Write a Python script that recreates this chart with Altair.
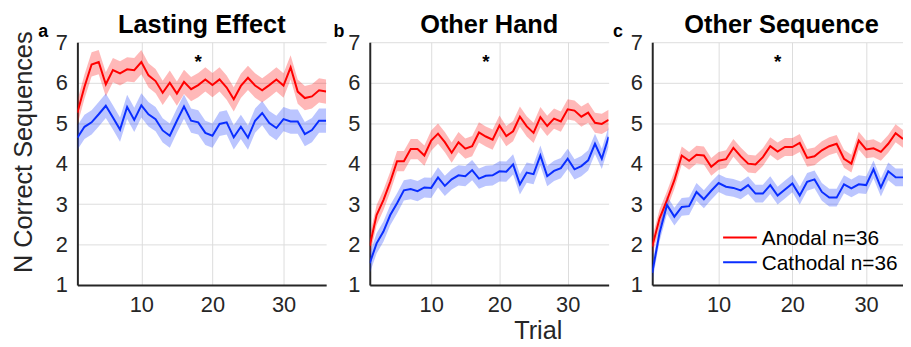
import altair as alt
import pandas as pd

# ---------------- data ----------------
trials = list(range(1, 37))
groups = ["Anodal n=36", "Cathodal n=36"]
colors = ["#ff0000", "#0a2eff"]

lasting_anodal = [5.26, 5.90, 6.45, 6.51, 5.96, 6.31, 6.23, 6.33, 6.31, 6.51,
                  6.18, 6.04, 5.75, 6.00, 5.73, 6.02, 5.84, 5.94, 6.08, 5.94,
                  6.08, 5.88, 5.59, 5.92, 6.12, 5.93, 5.81, 5.94, 6.08, 5.93,
                  6.38, 5.78, 5.62, 5.66, 5.81, 5.78]
lasting_cathodal = [4.64, 4.91, 5.02, 5.22, 5.43, 5.14, 4.84, 5.40, 5.08, 5.44,
                    5.22, 5.10, 4.82, 4.69, 5.06, 5.41, 5.06, 5.02, 4.76, 4.69,
                    4.98, 5.02, 4.65, 4.91, 4.64, 5.06, 5.25, 5.00, 4.88, 5.10,
                    5.04, 5.04, 4.73, 4.83, 5.06, 5.06]
hand_anodal = [1.97, 2.73, 3.10, 3.55, 4.06, 4.06, 4.36, 4.36, 4.20, 4.57,
               4.74, 4.53, 4.27, 4.53, 4.37, 4.43, 4.77, 4.67, 4.59, 4.94,
               4.68, 4.80, 5.16, 4.92, 4.76, 5.15, 4.93, 5.11, 5.04, 5.34,
               5.31, 5.16, 5.26, 5.01, 4.98, 5.08]
hand_cathodal = [1.54, 2.03, 2.32, 2.73, 3.02, 3.34, 3.37, 3.32, 3.41, 3.40,
                 3.66, 3.45, 3.61, 3.71, 3.69, 3.84, 3.63, 3.70, 3.71, 3.81,
                 3.80, 3.98, 3.49, 3.78, 3.74, 4.20, 3.69, 3.82, 3.89, 4.12,
                 3.86, 3.94, 4.08, 4.49, 4.12, 4.66]
seq_anodal = [1.95, 2.65, 3.10, 3.59, 4.20, 4.07, 4.22, 4.20, 3.92, 4.07,
              4.11, 4.39, 4.18, 4.00, 3.98, 4.16, 4.43, 4.30, 4.41, 4.41,
              4.51, 4.14, 4.18, 4.33, 4.43, 4.49, 4.12, 4.00, 4.57, 4.35,
              4.38, 4.29, 4.49, 4.75, 4.61, 4.55]
seq_cathodal = [1.30, 2.30, 2.98, 2.69, 2.93, 2.95, 3.30, 3.12, 3.33, 3.52,
                3.43, 3.40, 3.34, 3.47, 3.26, 3.26, 3.47, 3.21, 3.36, 3.51,
                3.21, 3.55, 3.61, 3.30, 3.16, 3.16, 3.49, 3.39, 3.49, 3.47,
                3.86, 3.41, 3.81, 3.66, 3.66, 3.66]

# standard error half-widths of the shaded bands (anodal, cathodal)
lasting_sem = [0.30, 0.30]
hand_sem = [0.25, 0.25]
seq_sem = [0.22, 0.22]

panel_titles = ["Lasting Effect", "Other Hand", "Other Sequence"]
panel_letters = ["a", "b", "c"]
x_ticks = [10, 20, 30]
y_ticks = [1, 2, 3, 4, 5, 6, 7]
y_label = "N Correct Sequences"
x_label = "Trial"
star_trial = 18
star_value = 6.36

FONT = "Liberation Sans"
AXIS_COLOR = "#262626"

cscale = alt.Scale(domain=groups, range=colors)


def make_df(anodal, cathodal, sems):
    rows = []
    for g, vals, s in ((groups[0], anodal, sems[0]), (groups[1], cathodal, sems[1])):
        for t, v in zip(trials, vals):
            rows.append({"trial": t, "value": v, "lo": v - s, "hi": v + s, "group": g})
    return pd.DataFrame(rows)


def panel(df, title, letter, width, xmax, title_x, letter_x, ytitle=False,
          xtitle=False, legend=False):
    xscale = alt.Scale(domain=[1, xmax], nice=False, zero=False)
    yscale = alt.Scale(domain=[1, 7], nice=False, zero=False)
    if xtitle:
        xaxis = alt.Axis(values=x_ticks, title=x_label, titleX=169.5, titleY=54,
                         titleBaseline="alphabetic", titleAlign="center")
    else:
        xaxis = alt.Axis(values=x_ticks, title=None)
    if ytitle:
        yaxis = alt.Axis(values=y_ticks, title=y_label, titleX=-46.5, titleY=110.5,
                         titleBaseline="alphabetic", titleAngle=270, titleAlign="center")
    else:
        yaxis = alt.Axis(values=y_ticks, title=None)

    # only the trials inside the visible axis range
    base = alt.Chart(df).transform_filter(alt.datum.trial <= xmax)
    band = base.mark_area(opacity=0.28, clip=True).encode(
        x=alt.X("trial:Q", scale=xscale, axis=xaxis),
        y=alt.Y("lo:Q", scale=yscale, axis=yaxis),
        y2="hi:Q",
        color=alt.Color("group:N", scale=cscale, legend=None),
    )
    line = base.mark_line(strokeWidth=2, clip=True).encode(
        x=alt.X("trial:Q", scale=xscale, axis=xaxis),
        y=alt.Y("value:Q", scale=yscale, axis=yaxis),
        color=alt.Color("group:N", scale=cscale, legend=None),
    )
    star = alt.Chart(pd.DataFrame({"trial": [star_trial], "value": [star_value], "s": ["*"]})).mark_text(
        fontSize=19, fontWeight="bold", font=FONT, color="black", baseline="alphabetic"
    ).encode(x=alt.X("trial:Q", scale=xscale, axis=xaxis),
             y=alt.Y("value:Q", scale=yscale, axis=yaxis), text="s:N")
    let = alt.Chart(pd.DataFrame({"letter": [letter]})).mark_text(
        align="left", baseline="alphabetic", fontSize=18, fontWeight="bold",
        font=FONT, color="black"
    ).encode(x=alt.value(letter_x), y=alt.value(-5), text="letter:N")
    ttl = alt.Chart(pd.DataFrame({"title": [title]})).mark_text(
        align="center", baseline="alphabetic", fontSize=25.6, fontWeight="bold",
        font=FONT, color="black"
    ).encode(x=alt.value(title_x), y=alt.value(-9.3), text="title:N")
    layers = [band, line, star, let, ttl]
    if legend:
        for i, g in enumerate(groups):
            ld = pd.DataFrame({"group": [g]})
            layers.append(alt.Chart(ld).mark_rule(strokeWidth=2).encode(
                x=alt.value(71.5), x2=alt.value(105.5), y=alt.value(197 + 25 * i),
                color=alt.Color("group:N", scale=cscale, legend=None)))
            layers.append(alt.Chart(ld).mark_text(
                align="left", baseline="alphabetic", fontSize=21, font=FONT,
                color="black").encode(
                x=alt.value(110.5), y=alt.value(205 + 25 * i), text="group:N"))
    return alt.layer(*layers).properties(width=width, height=245)


pa = panel(make_df(lasting_anodal, lasting_cathodal, lasting_sem), panel_titles[0],
           panel_letters[0], 251, 36, 125.5, -39.5, ytitle=True)
pb = panel(make_df(hand_anodal, hand_cathodal, hand_sem), panel_titles[1],
           panel_letters[1], 241, 36, 120.5, -36.5, xtitle=True)
pc = panel(make_df(seq_anodal, seq_cathodal, seq_sem), panel_titles[2],
           panel_letters[2], 253, 35, 130.5, -39.5, legend=True)

chart = alt.hconcat(pa, pb, pc, spacing=44, bounds="flush").resolve_scale(
    x="independent", y="independent"
).properties(
    padding={"left": 3, "top": 3, "right": 0, "bottom": 0}
).configure_view(stroke=None).configure_axis(
    domainColor=AXIS_COLOR, domainWidth=2, gridColor="#dddddd", gridWidth=1,
    labelFont=FONT, labelFontSize=22, labelColor=AXIS_COLOR, ticks=False,
    labelPadding=10, titleFont=FONT, titleFontSize=25.5, titleFontWeight="normal",
    titleColor=AXIS_COLOR,
)

chart.save("out.html", embed_options={"renderer": "svg", "actions": False})
